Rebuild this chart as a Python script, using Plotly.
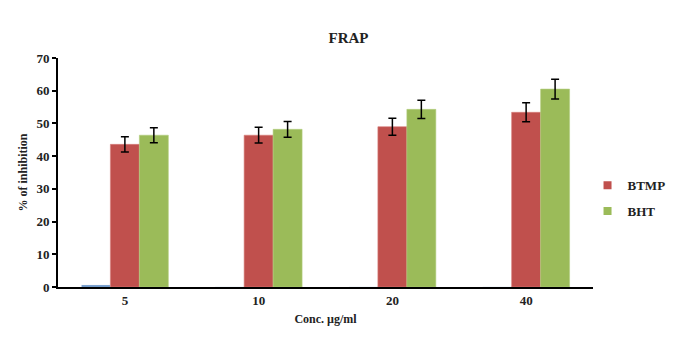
import plotly.graph_objects as go

categories = ["5", "10", "20", "40"]
blank_vals = [0.6, 0, 0, 0]
btmp_vals = [43.6, 46.4, 49.0, 53.4]
btmp_err = [2.3, 2.4, 2.6, 2.9]
bht_vals = [46.4, 48.2, 54.3, 60.5]
bht_err = [2.3, 2.4, 2.8, 3.0]
y_ticks = [0, 10, 20, 30, 40, 50, 60, 70]

font_family = "Liberation Serif"
red = "#C0504D"
green = "#9BBB59"
err_style = dict(type="data", visible=True, color="black", thickness=1.5, width=4)

fig = go.Figure()
fig.add_trace(go.Bar(x=categories, y=blank_vals, name="", showlegend=False,
                     marker=dict(color="#4F81BD")))
fig.add_trace(go.Bar(x=categories, y=btmp_vals, name="BTMP", showlegend=False,
                     marker=dict(color=red, line=dict(color="#D77E7B", width=0.6)),
                     error_y=dict(array=btmp_err, **err_style)))
fig.add_trace(go.Bar(x=categories, y=bht_vals, name="BHT", showlegend=False,
                     marker=dict(color=green, line=dict(color="#B4CF80", width=0.6)),
                     error_y=dict(array=bht_err, **err_style)))
# legend entries with small square keys
fig.add_trace(go.Scatter(x=[None], y=[None], mode="markers", name="<b>BTMP</b>",
                         legendgroup="a", marker=dict(symbol="square", size=8, color=red)))
fig.add_trace(go.Scatter(x=[None], y=[None], mode="markers", name="<b>BHT</b>",
                         legendgroup="b", marker=dict(symbol="square", size=8, color=green)))

fig.update_layout(
    width=681, height=343,
    margin=dict(l=50, r=96, t=50, b=64, autoexpand=False),
    paper_bgcolor="white", plot_bgcolor="white",
    barmode="group", bargap=0.35, bargroupgap=0,
    title=dict(text="<b>FRAP</b>", x=0.5, xanchor="center", y=0.913, yanchor="middle",
               font=dict(family=font_family, size=15, color="#222")),
    font=dict(family=font_family, color="#222"),
    legend=dict(xref="container", yref="container", x=0.851, y=0.527,
                xanchor="left", yanchor="top",
                font=dict(family=font_family, size=13, color="#222"),
                traceorder="grouped", tracegroupgap=6, itemwidth=30,
                bgcolor="rgba(0,0,0,0)"),
    xaxis=dict(type="category", showline=True, linecolor="black", linewidth=2,
               ticks="", showgrid=False,
               tickfont=dict(family=font_family, size=13, color="#222"),
               title=dict(text="<b>Conc. µg/ml</b>", standoff=8,
                          font=dict(family=font_family, size=12, color="#222"))),
    yaxis=dict(range=[0, 70], tickvals=y_ticks, ticktext=[f"<b>{v}</b>" for v in y_ticks],
               showline=True, linecolor="black", linewidth=2, ticks="outside",
               ticklen=4, tickwidth=1.5, tickcolor="black", showgrid=False, zeroline=False,
               tickfont=dict(family=font_family, size=13, color="#222"),
               title=dict(text="<b>% of inhibition</b>", standoff=6,
                          font=dict(family=font_family, size=12, color="#222"))),
)
fig.update_xaxes(ticktext=[f"<b>{c}</b>" for c in categories], tickvals=categories)

fig.write_html("out.html")
